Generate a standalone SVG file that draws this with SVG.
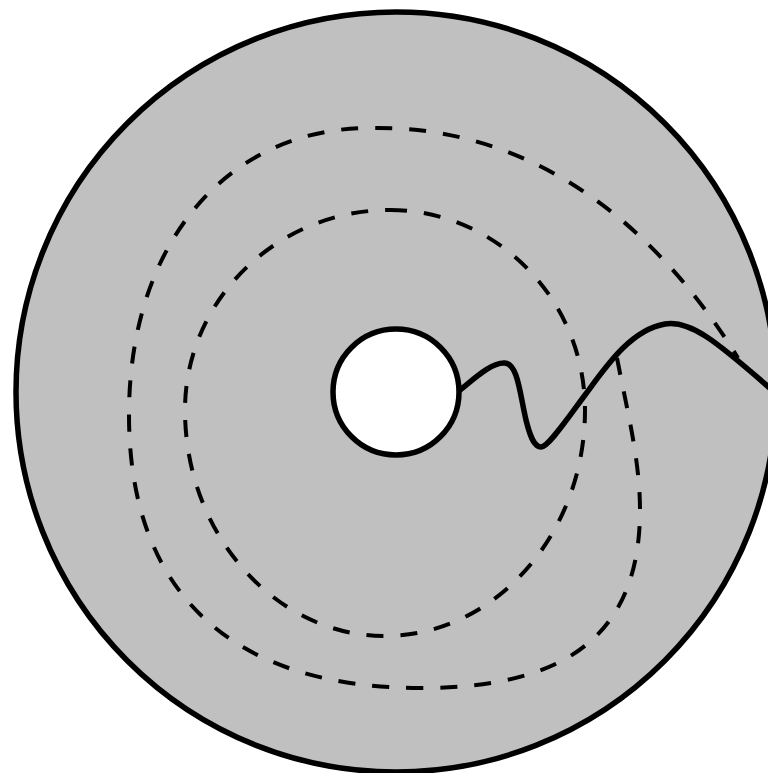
<svg xmlns="http://www.w3.org/2000/svg" width="768" height="773" viewBox="0 0 768 773">
<style>
.disk{fill:#c0c0c0;stroke:#000;stroke-width:5.5}
.hole{fill:#fff;stroke:#000;stroke-width:5.5}
.loop{fill:none;stroke:#000;stroke-width:4;stroke-dasharray:17 17}
.cut{fill:none;stroke:#000;stroke-width:5.5;stroke-linecap:round;stroke-linejoin:round}
</style>
<rect width="768" height="773" fill="#fff"/>
<g id="disk"><circle class="disk" cx="396" cy="392" r="380"/></g>
<g id="loops">
<path id="inner-loop" class="loop" d="M390,210 C497,210 585,300 585,410 C585,534 495,636 385,636 C275,636 185,534 185,410 C185,300 277,210 390,210 Z"/>
<path id="outer-loop" class="loop" d="M617,358 C627,410 640,460 640,510 C640,640 560,688 420,688 C240,688 129,600 129,415 C129,240 230,128 370,128 C510,125 640,200 738,358"/>
</g>
<g id="cut"><path class="cut" d="M460,390 C475,378 492,362 505,363 C518,364 520,395 526,420 C531,440 535,447 541,447 C548,447 565,422 585,395 C605,368 630,330 665,324 C690,320 715,340 772,390"/></g>
<g id="hole"><circle class="hole" cx="396" cy="392" r="63"/></g>
</svg>
